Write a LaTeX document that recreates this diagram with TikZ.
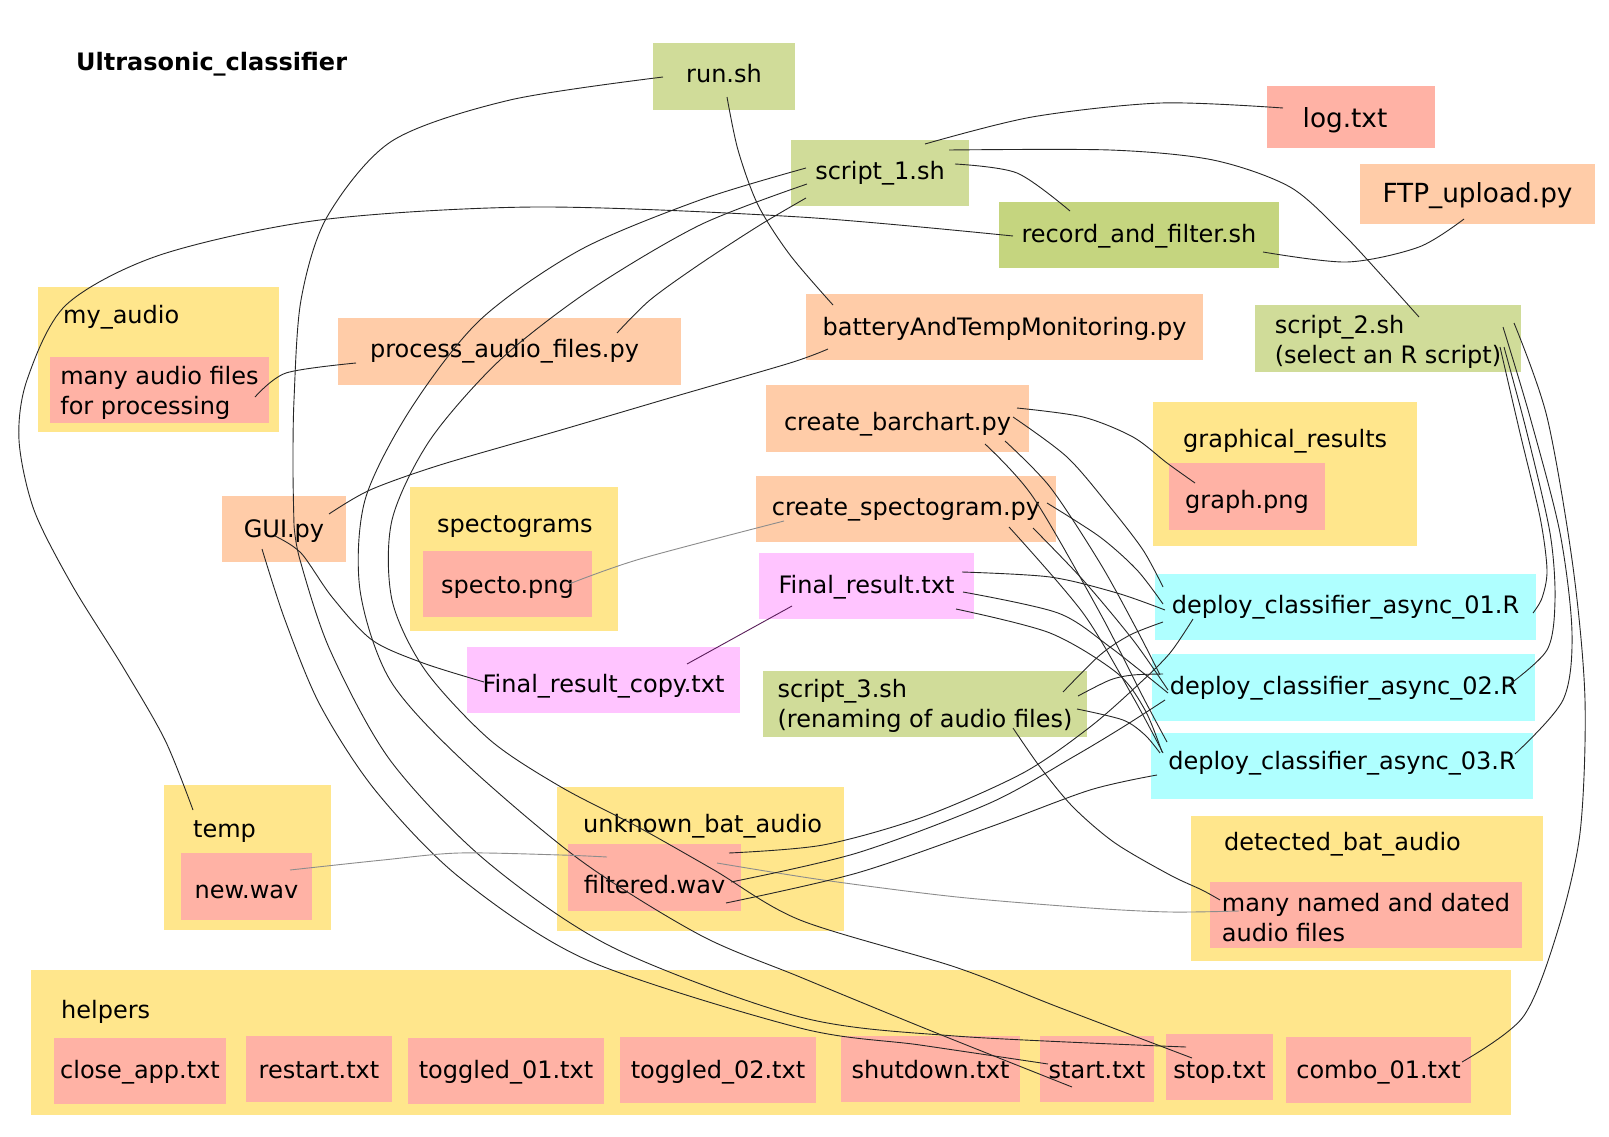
\documentclass[tikz,border=0pt]{standalone}
\usepackage{fontspec}
\setmainfont{DejaVu Sans}
\definecolor{cYellow}{RGB}{255,230,140}
\definecolor{cSalmon}{RGB}{255,178,165}
\definecolor{cPeach}{RGB}{255,204,168}
\definecolor{cGreen}{RGB}{208,220,153}
\definecolor{cGreenDark}{RGB}{197,213,127}
\definecolor{cCyan}{RGB}{175,255,255}
\definecolor{cPink}{RGB}{255,196,255}
\definecolor{cPurpleLine}{RGB}{90,30,90}
\begin{document}
\begin{tikzpicture}[x=1pt,y=-1pt,
  every node/.style={font=\fontsize{24}{30}\selectfont},
  box/.style={rectangle, inner sep=0pt, outer sep=0pt, draw=none, text=black},
  one/.style={text height=17.5pt, text depth=5.5pt},
  low/.style={text height=#1, text depth=5.5pt},
  big/.style={font=\fontsize{26.3}{32}\selectfont, text depth=6pt},
  lbl/.style={anchor=west, inner sep=0pt, text height=17.5pt, text depth=5.5pt},
  conn/.style={line width=0.9pt, draw=black!85},
  faint/.style={line width=0.9pt, draw=black!45},
  tinted/.style={line width=0.9pt, draw=cPurpleLine}]

\useasboundingbox (0,0) rectangle (1609,1137);
\fill[white] (0,0) rectangle (1609,1137);

% title
\node[font=\bfseries\fontsize{24}{30}\selectfont, anchor=base west, inner sep=0pt] (title) at (76,70.5) {Ultrasonic\_classifier};

% containers (folders)
\node[box, fill=cYellow, minimum width=241, minimum height=145] (myaudio) at (158.5,359.5) {};
\node[lbl] (myaudiolbl) at (63,317.5) {my\_audio};
\node[box, fill=cYellow, minimum width=208, minimum height=144] (spectograms) at (514,559) {};
\node[lbl] (spectogramslbl) at (437,526.5) {spectograms};
\node[box, fill=cYellow, minimum width=264, minimum height=144] (graphical) at (1285,474) {};
\node[lbl] (graphicallbl) at (1183,441.5) {graphical\_results};
\node[box, fill=cYellow, minimum width=167, minimum height=145] (temp) at (247.5,857.5) {};
\node[lbl] (templbl) at (193,831.5) {temp};
\node[box, fill=cYellow, minimum width=287, minimum height=144] (unknown) at (700.5,859) {};
\node[lbl] (unknownlbl) at (583,826.5) {unknown\_bat\_audio};
\node[box, fill=cYellow, minimum width=352, minimum height=145] (detected) at (1367,888.5) {};
\node[lbl] (detectedlbl) at (1224,844.5) {detected\_bat\_audio};
\node[box, fill=cYellow, minimum width=1480, minimum height=145] (helpers) at (771,1042.5) {};
\node[lbl] (helperslbl) at (61,1012.5) {helpers};

% shell scripts
\node[box, one, fill=cGreen, minimum width=142, minimum height=67] (run) at (724,76.5) {run.sh};
\node[box, one, fill=cGreen, minimum width=178, minimum height=66] (script1) at (880,173) {script\_1.sh};
\node[box, low=19.5pt, fill=cGreenDark, minimum width=280, minimum height=66] (record) at (1139,235) {record\_and\_filter.sh};
\node[box, fill=cGreen, minimum width=266, minimum height=67, align=left] (script2) at (1388,338.5) {\rule{0pt}{24pt}script\_2.sh\\(select an R script)};
\node[box, fill=cGreen, minimum width=324, minimum height=66, align=left] (script3) at (925,704) {\rule{0pt}{22pt}script\_3.sh\\(renaming of audio files)};

% python programs
\node[box, big, text height=27.5pt, fill=cSalmon, minimum width=168, minimum height=62] (log) at (1351,117) {log.txt\hspace*{12pt}};
\node[box, big, text height=23.5pt, fill=cPeach, minimum width=235, minimum height=60] (ftp) at (1477.5,194) {FTP\_upload.py};
\node[box, low=21.5pt, fill=cPeach, minimum width=397, minimum height=66] (battery) at (1004.5,327) {batteryAndTempMonitoring.py};
\node[box, one, fill=cPeach, minimum width=343, minimum height=67] (process) at (509.5,351.5) {process\_audio\_files.py\hspace*{10pt}};
\node[box, low=21.5pt, fill=cPeach, minimum width=124, minimum height=66] (gui) at (284,529) {GUI.py};
\node[box, low=29.5pt, fill=cPeach, minimum width=263, minimum height=67] (barchart) at (897.5,418.5) {create\_barchart.py};
\node[box, one, fill=cPeach, minimum width=300, minimum height=66] (spectogram) at (906,509) {create\_spectogram.py};

% result files
\node[box, low=19.5pt, fill=cPink, minimum width=215, minimum height=66] (final) at (866.5,586) {Final\_result.txt};
\node[box, low=29.5pt, fill=cPink, minimum width=273, minimum height=66] (finalcopy) at (603.5,680) {Final\_result\_copy.txt};

% R classifiers
\node[box, one, fill=cCyan, minimum width=381, minimum height=66] (deploy1) at (1345.5,607) {deploy\_classifier\_async\_01.R};
\node[box, low=19.5pt, fill=cCyan, minimum width=383, minimum height=67] (deploy2) at (1343.5,687.5) {deploy\_classifier\_async\_02.R};
\node[box, low=11.5pt, fill=cCyan, minimum width=382, minimum height=66] (deploy3) at (1342,766) {deploy\_classifier\_async\_03.R};

% files inside folders
\node[box, fill=cSalmon, minimum width=219, minimum height=66, align=left] (manyaudio) at (159.5,390) {\rule{0pt}{24pt}many audio files\\for processing};
\node[box, low=24pt, fill=cSalmon, minimum width=169, minimum height=66] (specto) at (507.5,584) {specto.png};
\node[box, low=28.5pt, fill=cSalmon, minimum width=156, minimum height=67] (graph) at (1247,496.5) {graph.png};
\node[box, low=28.5pt, fill=cSalmon, minimum width=131, minimum height=67] (newwav) at (246.5,886.5) {new.wav};
\node[box, low=36.5pt, fill=cSalmon, minimum width=173, minimum height=67] (filtered) at (654.5,877.5) {filtered.wav};
\node[box, fill=cSalmon, minimum width=312, minimum height=66, align=left] (manynamed) at (1366,915) {\rule{0pt}{24pt}many named and dated\\audio files};
\node[box, low=19.5pt, fill=cSalmon, minimum width=172, minimum height=66] (closeapp) at (140,1071) {close\_app.txt};
\node[box, low=23.5pt, fill=cSalmon, minimum width=146, minimum height=66] (restart) at (319,1069) {restart.txt};
\node[box, low=19.5pt, fill=cSalmon, minimum width=196, minimum height=66] (toggledA) at (506,1071) {toggled\_01.txt};
\node[box, low=21.5pt, fill=cSalmon, minimum width=196, minimum height=66] (toggledB) at (718,1070) {toggled\_02.txt};
\node[box, low=23.5pt, fill=cSalmon, minimum width=179, minimum height=66] (shutdown) at (930.5,1069) {shutdown.txt};
\node[box, low=23.5pt, fill=cSalmon, minimum width=114, minimum height=66] (start) at (1097,1069) {start.txt};
\node[box, low=27.5pt, fill=cSalmon, minimum width=107, minimum height=66] (stop) at (1219.5,1067) {stop.txt};
\node[box, low=21.5pt, fill=cSalmon, minimum width=185, minimum height=66] (combo) at (1378.5,1070) {combo\_01.txt};

% ---------------- connectors ----------------
% run.sh
\draw[conn] plot[smooth] coordinates {([shift={(-61,0.5)}]run.center) (510,100) (392,141) (327,217) (301,300) (294,400) (293,470) ([shift={(10,-4)}]gui.center)};
\draw[conn] plot[smooth] coordinates {([shift={(3,20.5)}]run.center) (738,150) (758,205) (790,255) ([shift={(-171.5,-22)}]battery.center)};

% GUI.py
\draw[conn] plot[smooth] coordinates {([shift={(10,-4)}]gui.center) (300,560) (330,650) (390,760) (485,860) (612,947) (800,1017) (955,1036) ([shift={(-33.5,-20)}]stop.center)};
\draw[conn] plot[smooth] coordinates {([shift={(-22,20)}]gui.center) (285,620) (320,705) (375,790) (459,877) (587,960) (800,1028) (920,1045) ([shift={(-49,-5)}]start.center)};
\draw[conn] plot[smooth] coordinates {([shift={(-9,7)}]gui.center) (301,553) (332,597) (372,640) (423,663) ([shift={(-119.5,2)}]finalcopy.center)};

% battery monitor
\draw[conn] plot[smooth] coordinates {([shift={(-176.5,22)}]battery.center) (790,363) (673,397) (561,430) (440,465) (370,490) ([shift={(45,-15)}]gui.center)};

% script_1.sh
\draw[conn] plot[smooth] coordinates {([shift={(45,-29)}]script1.center) (1032,117) (1161,103) ([shift={(-68,-9)}]log.center)};
\draw[conn] plot[smooth] coordinates {([shift={(69,-23)}]script1.center) (1110,150) (1213,160) (1290,187) (1342,233) (1383,277) ([shift={(31,-21.5)}]script2.center)};
\draw[conn] plot[smooth] coordinates {([shift={(75,-9)}]script1.center) (1017,173) ([shift={(-69,-24)}]record.center)};
\draw[conn] plot[smooth] coordinates {([shift={(-74,25)}]script1.center) (760,225) (700,264) (650,300) ([shift={(107.5,-18.5)}]process.center)};
\draw[conn] plot[smooth] coordinates {([shift={(-74,-5)}]script1.center) (700,200) (580,250) (480,320) (410,410) (365,500) (360,590) (390,680) (462,760) (580,860) (700,935) (800,977) (929,1030) ([shift={(-25,18)}]start.center)};
\draw[conn] plot[smooth] coordinates {([shift={(-73,11)}]script1.center) (700,225) (590,290) (500,360) (430,440) (392,520) (392,600) (425,670) (490,740) (561,787) (638,827) (714,870) (800,920) (955,967) (1058,1007) ([shift={(-27.5,-9)}]stop.center)};

% record_and_filter.sh
\draw[conn] plot[smooth] coordinates {([shift={(124,17)}]record.center) (1347,262) (1419,247) ([shift={(-13.5,25)}]ftp.center)};
\draw[conn] plot[smooth] coordinates {([shift={(-126,1)}]record.center) (800,217) (536,207) (320,220) (160,255) (66,305) (27,380) (19,440) (34,510) (72,585) (123,667) (165,740) ([shift={(-54.5,-47.5)}]temp.center)};

% audio files
\draw[conn] plot[smooth] coordinates {([shift={(95.5,7)}]manyaudio.center) (286,373) ([shift={(-153.5,11.5)}]process.center)};
\draw[faint] plot[smooth] coordinates {([shift={(43.5,-16.5)}]newwav.center) (383,860) (459,853) (561,855) ([shift={(-47.5,-20.5)}]filtered.center)};
\draw[faint] plot[smooth] coordinates {([shift={(62.5,-14.5)}]filtered.center) (823,880) (957,897) (1090,908) (1170,912) ([shift={(-127,-4)}]manynamed.center)};
\draw[faint] plot[smooth] coordinates {([shift={(61.5,0)}]specto.center) (640,559) ([shift={(-122,12)}]spectogram.center)};
\draw[tinted] ([shift={(-74.5,20)}]final.center) -- ([shift={(83.5,-16)}]finalcopy.center);

% filtered.wav to the classifiers
\draw[conn] plot[smooth] coordinates {([shift={(74.5,-24.5)}]filtered.center) (823,845) (923,817) (1023,773) (1090,727) (1140,683) (1170,653) ([shift={(-152.5,12)}]deploy1.center)};
\draw[conn] plot[smooth] coordinates {([shift={(76.5,4.5)}]filtered.center) (857,853) (990,803) (1073,757) (1123,727) ([shift={(-178.5,12.5)}]deploy2.center)};
\draw[conn] plot[smooth] coordinates {([shift={(71.5,25.5)}]filtered.center) (857,873) (990,827) (1090,790) ([shift={(-185,9)}]deploy3.center)};

% script_3.sh
\draw[conn] plot[smooth] coordinates {([shift={(138,-12)}]script3.center) (1100,655) (1130,635) ([shift={(-182.5,15)}]deploy1.center)};
\draw[conn] plot[smooth] coordinates {([shift={(153,-8)}]script3.center) (1110,680) (1133,675) ([shift={(-180.5,-13.5)}]deploy2.center)};
\draw[conn] plot[smooth] coordinates {([shift={(152,5)}]script3.center) (1123,720) (1145,735) ([shift={(-182,-13)}]deploy3.center)};
\draw[conn] plot[smooth] coordinates {([shift={(88,24)}]script3.center) (1040,767) (1073,807) (1115,843) (1170,875) (1202,890) ([shift={(-146,-15)}]manynamed.center)};

% Final_result.txt
\draw[conn] plot[smooth] coordinates {([shift={(95.5,-14)}]final.center) (1050,577) (1117,593) ([shift={(-180.5,3)}]deploy1.center)};
\draw[conn] plot[smooth] coordinates {([shift={(96.5,6)}]final.center) (1058,613) (1110,647) ([shift={(-175.5,5.5)}]deploy2.center)};
\draw[conn] plot[smooth] coordinates {([shift={(89.5,23)}]final.center) (1050,633) (1117,673) (1145,710) ([shift={(-180,-14)}]deploy3.center)};

% create_spectogram.py
\draw[conn] plot[smooth] coordinates {([shift={(141,-6)}]spectogram.center) (1100,537) (1137,570) ([shift={(-182.5,-3)}]deploy1.center)};
\draw[conn] plot[smooth] coordinates {([shift={(127,19)}]spectogram.center) (1083,580) (1133,640) ([shift={(-175.5,2.5)}]deploy2.center)};
\draw[conn] plot[smooth] coordinates {([shift={(103,18)}]spectogram.center) (1083,613) (1133,697) ([shift={(-179,-13)}]deploy3.center)};

% create_barchart.py
\draw[conn] plot[smooth] coordinates {([shift={(119.5,-10.5)}]barchart.center) (1083,417) (1133,437) (1167,463) ([shift={(-52,-13.5)}]graph.center)};
\draw[conn] plot[smooth] coordinates {([shift={(115.5,-1.5)}]barchart.center) (1067,457) (1110,507) (1143,550) ([shift={(-182.5,-20)}]deploy1.center)};
\draw[conn] plot[smooth] coordinates {([shift={(107.5,22.5)}]barchart.center) (1050,487) (1100,563) (1137,630) ([shift={(-183.5,-12.5)}]deploy2.center)};
\draw[conn] plot[smooth] coordinates {([shift={(87.5,25.5)}]barchart.center) (1033,497) (1100,613) (1143,697) ([shift={(-175,-24)}]deploy3.center)};

% script_2.sh
\draw[conn] plot[smooth] coordinates {([shift={(112,8.5)}]script2.center) (1520,433) (1540,517) (1547,570) (1542,598) ([shift={(187.5,6)}]deploy1.center)};
\draw[conn] plot[smooth] coordinates {([shift={(116,8.5)}]script2.center) (1527,433) (1550,533) (1555,600) (1547,650) ([shift={(162.5,-0.5)}]deploy2.center)};
\draw[conn] plot[smooth] coordinates {([shift={(115,-11.5)}]script2.center) (1530,417) (1560,533) (1572,633) (1563,700) ([shift={(173,-12)}]deploy3.center)};
\draw[conn] plot[smooth] coordinates {([shift={(126,-15.5)}]script2.center) (1547,417) (1573,567) (1585,700) (1580,833) (1557,933) (1523,1017) ([shift={(83.5,-8)}]combo.center)};

\end{tikzpicture}
\end{document}
